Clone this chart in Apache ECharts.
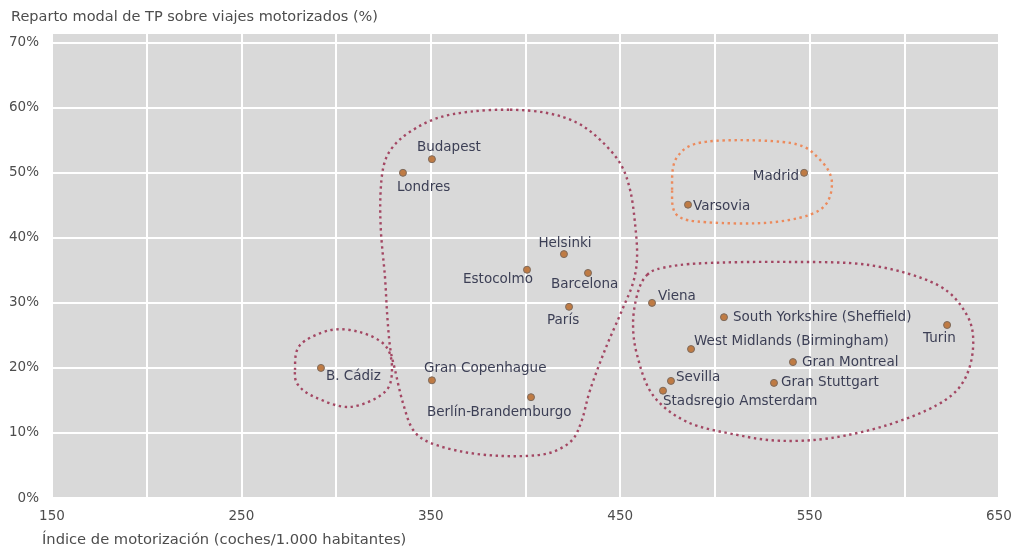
<!DOCTYPE html>
<html>
<head>
<meta charset="utf-8">
<script src="https://cdn.jsdelivr.net/npm/echarts@6/dist/echarts.min.js"></script>
<style>
html,body{margin:0;padding:0;background:#fff;}
#chart{width:1017px;height:549px;}
</style>
</head>
<body>
<div id="chart"></div>
<script>
// ---- data ----
const cities = ['Budapest','Londres','Helsinki','Estocolmo','Barcelona','París','B. Cádiz','Gran Copenhague','Berlín-Brandemburgo','Madrid','Varsovia','Viena','South Yorkshire (Sheffield)','West Midlands (Birmingham)','Gran Montreal','Sevilla','Gran Stuttgart','Stadsregio Amsterdam','Turin'];
const motorizacion = [350.6, 335.3, 420.3, 400.8, 433.0, 423.0, 292.0, 350.6, 402.9, 547.1, 485.8, 466.8, 504.8, 487.4, 541.2, 476.8, 531.2, 472.6, 622.6];
const repartoTP =    [52.1, 50.0, 37.5, 35.1, 34.6, 29.4, 20.0, 18.1, 15.5, 50.0, 45.1, 30.0, 27.8, 22.9, 20.9, 18.0, 17.7, 16.5, 26.6];

const xTicks = [150, 250, 350, 450, 550, 650];
const yTicks = [0, 10, 20, 30, 40, 50, 60, 70];

// group outlines (annotation shapes, in data units: [motorización, %])
const grupoCentral = [[391.8,59.7],[411.4,59.2],[427.2,57.7],[439.3,55.1],[449.9,51.5],[455.2,47.4],[457.8,42.3],[458.9,37.1],[456.8,33.1],[451.0,28.9],[442.0,22.8],[434.1,16.6],[429.8,12.0],[424.6,8.9],[414.5,7.1],[402.4,6.5],[385.0,6.5],[367.0,7.1],[349.6,8.5],[340.6,10.5],[335.3,14.6],[331.1,19.7],[328.5,23.2],[326.9,28.5],[325.8,34.0],[323.7,40.8],[323.4,46.5],[325.2,51.2],[330.0,54.0],[339.0,56.3],[353.3,58.4],[370.7,59.4]];
const grupoCadiz = [[278.3,19.7],[280.9,23.5],[296.8,25.8],[312.6,25.5],[325.8,23.5],[329.5,20.1],[325.8,16.3],[307.3,14.0],[288.9,15.5],[279.9,17.4]];
const grupoMadrid = [[477.4,47.4],[480.0,52.4],[495.8,54.8],[539.7,54.6],[555.5,52.0],[561.8,48.4],[555.5,44.3],[530.7,42.4],[495.8,42.4],[480.0,43.5]];
const grupoDerecha = [[464.2,34.3],[472.6,35.4],[493.7,36.1],[538.1,36.3],[581.9,35.8],[617.3,32.8],[633.1,28.1],[636.3,23.1],[631.0,17.8],[617.3,14.3],[590.9,11.2],[560.8,9.2],[534.4,8.8],[511.7,9.7],[485.3,11.7],[467.3,15.8],[458.9,22.0],[456.8,27.1],[459.4,31.7]];

// ---- label placement (layout only) : [align, dx, dy] ----
const labelPlacement = [
  ['left',-15,-12],['left',-6,15],['center',1,-11],['right',6,10],['left',-37,12],['left',-22,14],
  ['left',5,9],['left',-8,-12],['left',-104,15],['right',-5,4],['left',5,2],['left',6,-6],
  ['left',9,0],['left',3,-8],['left',9,0],['left',5,-3],['left',7,0],['left',0,11],['left',-24,13]
];

const FONT = 'DejaVu Sans';
const TEXT = '#3c3f55';
const GREY = '#4d4d4d';

const points = cities.map((c, i) => ({
  name: c,
  value: [motorizacion[i], repartoTP[i]],
  label: {
    show: true,
    formatter: c,
    position: 'inside',
    align: labelPlacement[i][0],
    verticalAlign: 'middle',
    offset: [labelPlacement[i][1], labelPlacement[i][2]]
  }
}));

// closed Catmull-Rom curve through the mapped outline vertices
function closedCurvePath(p) {
  const n = p.length;
  let d = 'M' + p[0][0].toFixed(2) + ' ' + p[0][1].toFixed(2);
  for (let i = 0; i < n; i++) {
    const p0 = p[(i - 1 + n) % n], p1 = p[i], p2 = p[(i + 1) % n], p3 = p[(i + 2) % n];
    const c1x = p1[0] + (p2[0] - p0[0]) / 6, c1y = p1[1] + (p2[1] - p0[1]) / 6;
    const c2x = p2[0] - (p3[0] - p1[0]) / 6, c2y = p2[1] - (p3[1] - p1[1]) / 6;
    d += ' C' + c1x.toFixed(2) + ' ' + c1y.toFixed(2) + ' ' + c2x.toFixed(2) + ' ' + c2y.toFixed(2) + ' ' + p2[0].toFixed(2) + ' ' + p2[1].toFixed(2);
  }
  return d + ' Z';
}

function outlineSeries(pts, color) {
  return {
    type: 'custom',
    silent: true,
    z: 3,
    data: [0],
    renderItem: function (params, api) {
      const p = pts.map(d => api.coord(d));
      return {
        type: 'path',
        shape: { pathData: closedCurvePath(p) },
        style: { fill: 'none', stroke: color, lineWidth: 2.4, lineDash: [2.4, 3.6] }
      };
    }
  };
}

const chart = echarts.init(document.getElementById('chart'), null, { renderer: 'canvas' });
chart.setOption({
  backgroundColor: '#ffffff',
  animation: false,
  title: [
    { text: 'Reparto modal de TP sobre viajes motorizados (%)', left: 6, top: 5,
      textStyle: { fontFamily: FONT, fontSize: 14.5, fontWeight: 'normal', color: GREY } },
    { text: 'Índice de motorización (coches/1.000 habitantes)', left: 37, top: 528,
      textStyle: { fontFamily: FONT, fontSize: 14.7, fontWeight: 'normal', color: GREY } }
  ],
  grid: { left: 52, right: 18, top: 33, bottom: 51, show: true, backgroundColor: '#d9d9d9', borderWidth: 0 },
  xAxis: {
    type: 'value', min: 150, max: 650, interval: 50,
    axisLine: { show: false }, axisTick: { show: false },
    splitLine: { show: true, lineStyle: { color: '#ffffff', width: 2 } },
    axisLabel: {
      margin: 11, fontFamily: FONT, fontSize: 13.5, color: GREY,
      formatter: v => xTicks.indexOf(v) >= 0 ? String(v) : ''
    }
  },
  yAxis: {
    type: 'value', min: 0, max: 71.5, interval: 10,
    axisLine: { show: false }, axisTick: { show: false },
    splitLine: { show: true, lineStyle: { color: '#ffffff', width: 2 } },
    axisLabel: {
      margin: 13, fontFamily: FONT, fontSize: 13.5, color: GREY, showMaxLabel: false,
      padding: [10, 0, 0, 0],
      formatter: v => yTicks.indexOf(v) >= 0 ? v + '%' : ''
    }
  },
  series: [
    outlineSeries(grupoCentral, '#a34763'),
    outlineSeries(grupoCadiz, '#a34763'),
    outlineSeries(grupoDerecha, '#a34763'),
    outlineSeries(grupoMadrid, '#ec8a5c'),
    {
      type: 'scatter',
      z: 5,
      symbolSize: 7,
      itemStyle: { color: '#bf7b44', borderColor: '#7d6a5c', borderWidth: 1, opacity: 1 },
      label: { fontFamily: FONT, fontSize: 13.5, color: TEXT },
      data: points
    }
  ]
});
</script>
</body>
</html>
